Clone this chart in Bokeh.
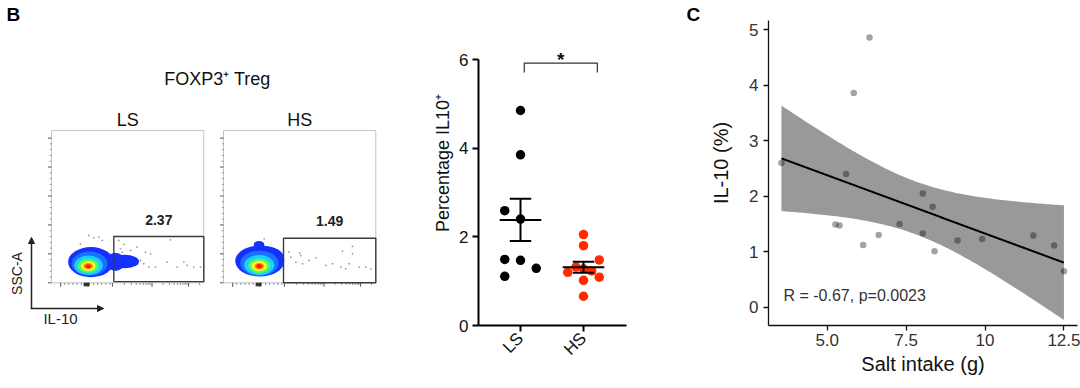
import math
import numpy as np
from bokeh.plotting import figure
from bokeh.layouts import row
from bokeh.models import Range1d, FixedTicker, Label, Arrow, NormalHead
from bokeh.core.properties import value
from bokeh.embed import file_html
from bokeh.resources import INLINE

FONT = "Liberation Sans"

# ====================== DATA ======================
# ---- Panel B, flow plots (coordinates are fractions of each plot's axes) ----
flow_groups = ["LS", "HS"]
gate_percent = ["2.37", "1.49"]
gate_left = [0.409, 0.394]
gate_right = [1.0, 1.0]
gate_bottom = [0.008, 0.0]
gate_top = [0.304, 0.293]

density_colors = ["#1530ff", "#1a70ff", "#1ccfff", "#52ff52", "#ffff30", "#ff9a10", "#ff1c0c"]
ls_density_u = [0.259, 0.250, 0.243, 0.241, 0.241, 0.241, 0.241]
ls_density_v = [0.136, 0.126, 0.115, 0.111, 0.110, 0.109, 0.109]
ls_density_rx = [0.150, 0.118, 0.094, 0.069, 0.048, 0.033, 0.019]
ls_density_ry = [0.099, 0.080, 0.064, 0.045, 0.032, 0.022, 0.013]
hs_density_u = [0.238, 0.236, 0.235, 0.235, 0.235, 0.235, 0.235]
hs_density_v = [0.143, 0.128, 0.116, 0.111, 0.110, 0.109, 0.109]
hs_density_rx = [0.161, 0.126, 0.099, 0.072, 0.050, 0.034, 0.020]
hs_density_ry = [0.102, 0.083, 0.066, 0.047, 0.033, 0.023, 0.014]
# outer-level lobes (tail of LS population, shoulder of HS population)
ls_lobe_u = [0.480, 0.420]
ls_lobe_v = [0.140, 0.138]
ls_lobe_rx = [0.095, 0.060]
ls_lobe_ry = [0.045, 0.060]
hs_lobe_u = [0.233, 0.270]
hs_lobe_v = [0.250, 0.165]
hs_lobe_rx = [0.035, 0.125]
hs_lobe_ry = [0.025, 0.075]

ls_events_u = [0.245, 0.278, 0.311, 0.333, 0.453, 0.475, 0.464, 0.519, 0.584, 0.606, 0.639,
               0.683, 0.759, 0.781, 0.825, 0.869, 0.891, 0.934, 0.978, 0.508, 0.650, 0.190,
               0.442, 0.562, 0.617]
ls_events_v = [0.311, 0.295, 0.300, 0.278, 0.225, 0.252, 0.201, 0.212, 0.147, 0.125, 0.103,
               0.103, 0.136, 0.282, 0.103, 0.136, 0.114, 0.103, 0.103, 0.168, 0.190, 0.256,
               0.278, 0.234, 0.201]
hs_events_u = [0.442, 0.475, 0.508, 0.519, 0.562, 0.606, 0.501, 0.672, 0.716, 0.770, 0.781,
               0.847, 0.825, 0.891, 0.934, 0.967, 0.803, 0.267, 0.431, 0.847]
hs_events_v = [0.168, 0.136, 0.179, 0.125, 0.147, 0.164, 0.195, 0.114, 0.125, 0.103, 0.208,
               0.239, 0.125, 0.103, 0.103, 0.092, 0.092, 0.289, 0.201, 0.190]

flow_y_major = [0.0, 0.19, 0.38, 0.57, 0.76, 0.95]
flow_x_major = [0.06, 0.24, 0.40, 0.66, 0.90]

# ---- Panel B, percentage IL10+ ----
groups = ["LS", "HS"]
ls_values = [4.85, 3.85, 2.59, 2.40, 1.49, 1.47, 1.29, 1.11]
ls_swarm = [0.0, 0.0, -0.25, 0.0, -0.25, 0.0, 0.25, -0.25]
hs_values = [2.05, 1.80, 1.48, 1.32, 1.28, 1.23, 1.20, 1.09, 1.02, 0.66]
hs_swarm = [0.0, 0.0, 0.25, -0.12, 0.0, 0.13, -0.25, 0.25, 0.0, 0.0]

# ---- Panel C, salt intake vs IL-10 ----
salt_intake = [3.55, 5.60, 5.26, 5.39, 5.84, 6.34, 6.14, 6.63, 7.29, 8.03, 8.03, 8.34, 8.40,
               9.13, 9.91, 11.53, 12.19, 12.50]
il10_pct = [2.60, 2.40, 1.49, 1.47, 3.86, 4.86, 1.12, 1.30, 1.50, 2.05, 1.33, 1.81, 1.01,
            1.20, 1.23, 1.29, 1.11, 0.65]
corr_text = "R = -0.67, p=0.0023"

# ====================== layout constants ======================
H = 388
BOTTOM = 63           # common bottom border (frames of a row are aligned)
FRAME_H = H - BOTTOM  # 325

# ====================== PANEL B: flow plots ======================
BOX_LEFT = [51.0, 223.0]
BOX_BOTTOM = 282.3
BOX_SIZE = 152.3

p1 = figure(width=400, height=H, x_range=Range1d(0, 400), y_range=Range1d(FRAME_H, 0),
            x_axis_location=None, y_axis_location=None, min_border=0,
            min_border_bottom=BOTTOM, output_backend="svg", toolbar_location=None)
p1.grid.visible = False
p1.outline_line_color = None


def px(k, u):
    return BOX_LEFT[k] + np.asarray(u, dtype=float) * BOX_SIZE


def py(v):
    return BOX_BOTTOM - np.asarray(v, dtype=float) * BOX_SIZE


def txt(fig, x, y, s, size, bold=False, align="center", color="#111111", angle=0.0):
    fig.text(x=[x], y=[y], text=[s], angle=angle, text_font=value(FONT),
             text_font_size=value(size), text_font_style=value("bold" if bold else "normal"),
             text_align=align, text_baseline="middle", text_color=color)


dens = {
    0: (ls_density_u, ls_density_v, ls_density_rx, ls_density_ry,
        ls_lobe_u, ls_lobe_v, ls_lobe_rx, ls_lobe_ry, ls_events_u, ls_events_v),
    1: (hs_density_u, hs_density_v, hs_density_rx, hs_density_ry,
        hs_lobe_u, hs_lobe_v, hs_lobe_rx, hs_lobe_ry, hs_events_u, hs_events_v),
}

for k in range(2):
    du, dv, drx, dry, lu, lv, lrx, lry, eu, ev = dens[k]
    left, right = BOX_LEFT[k], BOX_LEFT[k] + BOX_SIZE
    top = BOX_BOTTOM - BOX_SIZE
    p1.quad(left=[left], right=[right], top=[top], bottom=[BOX_BOTTOM],
            fill_color=None, line_color="#c4c4c4", line_width=1)
    ymaj = np.array(flow_y_major)
    ymin = np.concatenate([ymaj[:-1] + f * 0.038 for f in (1, 2, 3, 4)])
    p1.segment(x0=left - 3.5, y0=py(ymaj), x1=[left] * len(ymaj), y1=py(ymaj),
               line_color="#555555", line_width=1)
    p1.segment(x0=left - 1.8, y0=py(ymin), x1=[left] * len(ymin), y1=py(ymin),
               line_color="#777777", line_width=0.8)
    xmaj = np.array(flow_x_major)
    xlin = np.arange(0.06, 0.40, 0.027)
    xlog = np.concatenate([0.40 + 0.26 * np.log10(np.arange(2, 10)),
                           0.66 + 0.24 * np.log10(np.arange(2, 10)),
                           0.90 + 0.24 * np.log10(np.arange(2, 3))])
    xdense = np.linspace(0.215, 0.245, 6)
    xmin_t = np.concatenate([xlin, xlog])
    p1.segment(x0=px(k, xmaj), y0=[BOX_BOTTOM] * len(xmaj), x1=px(k, xmaj),
               y1=[BOX_BOTTOM + 4] * len(xmaj), line_color="#555555", line_width=1)
    p1.segment(x0=px(k, xmin_t), y0=[BOX_BOTTOM] * len(xmin_t), x1=px(k, xmin_t),
               y1=[BOX_BOTTOM + 2.2] * len(xmin_t), line_color="#777777", line_width=0.8)
    p1.segment(x0=px(k, xdense), y0=[BOX_BOTTOM] * len(xdense), x1=px(k, xdense),
               y1=[BOX_BOTTOM + 3.5] * len(xdense), line_color="#222222", line_width=1.2)
    p1.scatter(x=px(k, eu), y=py(ev), size=1.8, color="#9a9a9a", line_color=None)
    p1.ellipse(x=px(k, lu), y=py(lv), width=2 * np.array(lrx) * BOX_SIZE,
               height=2 * np.array(lry) * BOX_SIZE, fill_color=density_colors[0],
               line_color=None)
    for i, c in enumerate(density_colors):
        p1.ellipse(x=[px(k, du[i])], y=[py(dv[i])], width=[2 * drx[i] * BOX_SIZE],
                   height=[2 * dry[i] * BOX_SIZE], fill_color=c, line_color=None)
    p1.quad(left=[px(k, gate_left[k])], right=[px(k, gate_right[k])],
            top=[py(gate_top[k])], bottom=[py(gate_bottom[k])],
            fill_color=None, line_color="#3a3a3a", line_width=1.4)
    cx = float((px(k, gate_left[k]) + px(k, gate_right[k])) / 2)
    txt(p1, cx, float(py(gate_top[k])) - 17, gate_percent[k], "14px", bold=True,
        color="#222222")
    txt(p1, left + BOX_SIZE / 2, top - 10.5, flow_groups[k], "18px")

txt(p1, 6, 13.5, "B", "19px", bold=True, align="left", color="#000000")
txt(p1, 217, 78, "FOXP3\u207a Treg", "18px")
p1.add_layout(Arrow(end=NormalHead(size=6, fill_color="#222222", line_color="#222222"),
                    x_start=31, y_start=308.5, x_end=31, y_end=237,
                    line_color="#222222", line_width=1.5))
p1.add_layout(Arrow(end=NormalHead(size=6, fill_color="#222222", line_color="#222222"),
                    x_start=30.3, y_start=308, x_end=103, y_end=308,
                    line_color="#222222", line_width=1.5))
txt(p1, 16, 273, "SSC-A", "14px", color="#222222", angle=math.pi / 2)
txt(p1, 60, 318, "IL-10", "15px", color="#222222")

# ====================== PANEL B: percentage IL10+ ======================
P2_PX_PER_UNIT_Y = 44.33
p2 = figure(width=302, height=H, x_range=Range1d(0.3333, 3.889),
            y_range=Range1d(0, FRAME_H / P2_PX_PER_UNIT_Y),
            min_border_left=78, min_border_right=0, min_border_top=0, min_border_bottom=BOTTOM,
            output_backend="svg", toolbar_location=None)
p2.grid.visible = False
p2.outline_line_color = None

ls_arr = np.array(ls_values)
hs_arr = np.array(hs_values)
p2.scatter(x=1 + np.array(ls_swarm), y=ls_arr, size=9.5, color="#000000", line_color=None)
p2.scatter(x=2 + np.array(hs_swarm), y=hs_arr, size=9.5, color="#ff2a00", line_color=None)

for g, arr in ((1, ls_arr), (2, hs_arr)):
    m = arr.mean()
    sem = arr.std(ddof=1) / math.sqrt(len(arr))
    p2.segment(x0=[g - 0.33], y0=[m], x1=[g + 0.33], y1=[m], line_color="#000000", line_width=2)
    p2.segment(x0=[g], y0=[m - sem], x1=[g], y1=[m + sem], line_color="#000000", line_width=2)
    p2.segment(x0=[g - 0.17, g - 0.17], y0=[m - sem, m + sem], x1=[g + 0.17, g + 0.17],
               y1=[m - sem, m + sem], line_color="#000000", line_width=2)

p2.line(x=[1.06, 1.06, 2.22, 2.22], y=[5.71, 5.92, 5.92, 5.71], line_color="#333333",
        line_width=1.2)
txt(p2, 1.64, 6.0, "*", "19px", bold=True)
# panel letter C (sits in this canvas, left of panel C)
txt(p2, 3.635, (FRAME_H - 14) / P2_PX_PER_UNIT_Y, "C", "19px", bold=True, align="left",
    color="#000000")

for ax in (p2.xaxis[0], p2.yaxis[0]):
    ax.axis_line_width = 2
    ax.axis_line_color = "#000000"
    ax.major_tick_line_width = 2
    ax.major_tick_line_color = "#000000"
    ax.major_tick_out = 6
    ax.major_tick_in = 0
    ax.minor_tick_line_color = None
    ax.major_label_text_font = FONT
    ax.major_label_text_font_size = "17px"
    ax.major_label_text_color = "#111111"
    ax.axis_label_text_font = FONT
    ax.axis_label_text_font_size = "18px"
    ax.axis_label_text_font_style = "normal"
    ax.axis_label_text_color = "#111111"

p2.yaxis.ticker = FixedTicker(ticks=[0, 2, 4, 6])
p2.yaxis.bounds = (0, 6)
p2.yaxis.major_label_standoff = 4
p2.yaxis.axis_label = "Percentage IL10\u207a"
p2.yaxis.axis_label_standoff = 3
p2.xaxis.ticker = FixedTicker(ticks=[1, 2])
p2.xaxis.bounds = (0.3333, 2.68)
p2.xaxis.major_label_overrides = {1: groups[0], 2: groups[1]}
p2.xaxis.major_label_orientation = math.pi / 4
p2.xaxis.major_label_standoff = 4

# ====================== PANEL C ======================
P3_PX_PER_UNIT_Y = 55.5
Y0_PX = 306.7
y3_start = (Y0_PX - FRAME_H) / P3_PX_PER_UNIT_Y
p3 = figure(width=378, height=H, x_range=Range1d(3.14, 12.93),
            y_range=Range1d(y3_start, Y0_PX / P3_PX_PER_UNIT_Y),
            min_border_left=66, min_border_right=3, min_border_top=0, min_border_bottom=BOTTOM,
            output_backend="svg", toolbar_location=None)
p3.grid.visible = False
p3.outline_line_color = None

xs_d = np.array(salt_intake)
ys_d = np.array(il10_pct)
n = len(xs_d)
slope, intercept = np.polyfit(xs_d, ys_d, 1)
resid = ys_d - (intercept + slope * xs_d)
s_res = math.sqrt((resid ** 2).sum() / (n - 2))
sxx = ((xs_d - xs_d.mean()) ** 2).sum()
t975 = 2.1199  # t quantile, df = n - 2 = 16
xg = np.linspace(xs_d.min(), xs_d.max(), 120)
yg = intercept + slope * xg
half = t975 * s_res * np.sqrt(1.0 / n + (xg - xs_d.mean()) ** 2 / sxx)

p3.varea(x=xg, y1=yg - half, y2=yg + half, fill_color="#999999", fill_alpha=1.0)
p3.line(x=xg, y=yg, line_color="#000000", line_width=2)
p3.scatter(x=xs_d, y=ys_d, size=6.5, color="#000000", alpha=0.36, line_color=None)

p3.add_layout(Label(x=3.615, y=0.21, text=corr_text, text_font=FONT, text_font_size="16px",
                    text_baseline="middle", text_align="left", text_color="#333333"))

for ax in (p3.xaxis[0], p3.yaxis[0]):
    ax.axis_line_width = 1.3
    ax.axis_line_color = "#111111"
    ax.major_tick_line_width = 1.3
    ax.major_tick_line_color = "#111111"
    ax.major_tick_out = 5
    ax.major_tick_in = 0
    ax.minor_tick_line_color = None
    ax.major_label_text_font = FONT
    ax.major_label_text_font_size = "17px"
    ax.major_label_text_color = "#333333"
    ax.axis_label_text_font = FONT
    ax.axis_label_text_font_size = "20px"
    ax.axis_label_text_font_style = "normal"
    ax.axis_label_text_color = "#111111"

p3.xaxis.ticker = FixedTicker(ticks=[5, 7.5, 10, 12.5])
p3.xaxis.major_label_overrides = {5: "5.0", 7.5: "7.5", 10: "10", 12.5: "12.5"}
p3.xaxis.axis_label = "Salt intake (g)"
p3.xaxis.major_label_standoff = 3
p3.xaxis.axis_label_standoff = 4
p3.yaxis.ticker = FixedTicker(ticks=[0, 1, 2, 3, 4, 5])
p3.yaxis.bounds = (y3_start, 5.17)
p3.yaxis.axis_label = "IL-10 (%)"
p3.yaxis.major_label_standoff = 5
p3.yaxis.axis_label_standoff = 14

layout = row(p1, p2, p3, spacing=0)
open("out.html", "w").write(file_html(layout, INLINE))
